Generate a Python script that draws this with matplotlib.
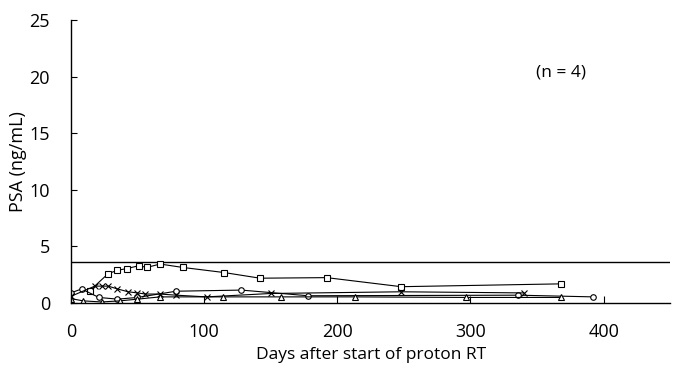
import matplotlib.pyplot as plt

plt.rcParams['font.family'] = ['Open Sans', 'DejaVu Sans']

# patient 1 (squares)
days_sq = [14, 28, 35, 42, 51, 57, 67, 84, 115, 142, 192, 248, 368]
psa_sq = [1.08, 2.6, 2.9, 3.05, 3.3, 3.15, 3.45, 3.15, 2.7, 2.2, 2.25, 1.45, 1.7]

# patient 2 (circles)
days_ci = [0, 8, 21, 35, 50, 79, 128, 178, 336, 392]
psa_ci = [0.9, 1.25, 0.5, 0.35, 0.5, 1.05, 1.15, 0.65, 0.7, 0.55]

# patient 3 (crosses)
days_cr = [0, 18, 23, 28, 35, 43, 50, 56, 67, 79, 102, 150, 248, 340]
psa_cr = [0.6, 1.5, 1.5, 1.5, 1.25, 1.0, 0.9, 0.8, 0.8, 0.7, 0.55, 0.85, 1.0, 0.9]

# patient 4 (triangles)
days_tr = [0, 9, 23, 37, 50, 67, 114, 158, 213, 297, 368]
psa_tr = [0.4, 0.2, 0.1, 0.2, 0.35, 0.55, 0.55, 0.55, 0.55, 0.5, 0.5]

threshold = 3.6
x_ticks = [0, 100, 200, 300, 400]
y_ticks = [0, 5, 10, 15, 20, 25]

fig = plt.figure(figsize=(6.75, 3.71), dpi=100)
ax = fig.add_axes([0.105, 0.183, 0.888, 0.763])

ax.axhline(threshold, color='black', lw=1.0)

style = dict(color='black', lw=0.8, mfc='white', mec='black', mew=0.8, ms=5)
ax.plot(days_sq, psa_sq, marker='s', **style)
ax.plot(days_ci, psa_ci, marker='o', **dict(style, ms=4))
ax.plot(days_cr, psa_cr, marker='x', **dict(style, ms=4))
ax.plot(days_tr, psa_tr, marker='^', **dict(style, ms=4))

ax.text(368, 20.4, '(n = 4)', ha='center', va='center', fontsize=12.5)

ax.set_xlim(0, 450)
ax.set_ylim(0, 25)
ax.set_xticks(x_ticks)
ax.set_yticks(y_ticks)
ax.tick_params(axis='x', direction='in', length=5, pad=14, labelsize=13)
ax.tick_params(axis='y', direction='in', length=4, pad=15, labelsize=13)
for s in ['top', 'right']:
    ax.spines[s].set_visible(False)
ax.spines['left'].set_linewidth(1.0)
ax.spines['bottom'].set_linewidth(1.0)

ax.set_xlabel('Days after start of proton RT', fontsize=12.5, labelpad=5)
ax.set_ylabel('PSA (ng/mL)', fontsize=13, labelpad=2)

fig.savefig('out.png', dpi=100)
